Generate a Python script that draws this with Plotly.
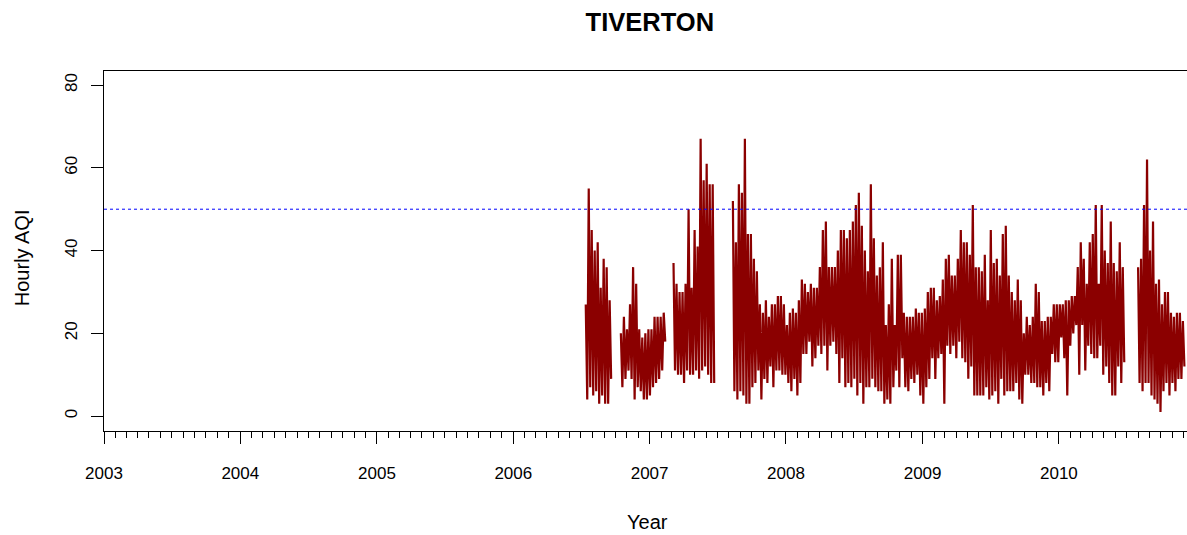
import pandas as pd
import plotly.graph_objs as go

# data chunks: start, end and per-block highs / lows
s1_start, s1_end = "2006-07-14", "2006-09-24"
s1_high = [27, 55, 45, 40, 42, 31, 38, 36, 28]
s1_low = [4, 7, 5, 6, 3, 5, 3, 3, 9]

s2_start, s2_end = "2006-10-16", "2007-02-16"
s2_high = [20, 24, 21, 27, 36, 32, 21, 19, 20, 21, 21, 24, 24, 24, 25]
s2_low = [7, 9, 11, 9, 4, 7, 6, 4, 4, 5, 7, 8, 9, 11, 18]

s3_start, s3_end = "2007-03-06", "2007-06-27"
s3_high = [37, 32, 30, 30, 32, 50, 31, 45, 41, 67, 57, 61, 56, 56]
s3_low = [11, 10, 10, 8, 11, 10, 10, 11, 9, 11, 12, 10, 8, 8]

s4_start, s4_end = "2007-08-12", "2010-06-29"
s4_high = [52, 42, 56, 54, 67, 44, 44, 38, 35, 27, 25, 28, 24, 27, 27, 29,
           29, 27, 22, 25, 26, 25, 28, 33, 32, 30, 32, 31, 31, 36, 45, 47, 36,
           36, 36, 40, 45, 45, 43, 45, 47, 51, 54, 46, 40, 35, 56, 43, 34,
           36, 42, 22, 27, 38, 22, 39, 39, 25, 24, 24, 24, 26, 25, 25, 26, 30,
           31, 31, 28, 29, 33, 38, 39, 34, 34, 38, 45, 42, 42, 39, 51, 36, 36,
           35, 39, 28, 45, 37, 38, 34, 44, 46, 34, 30, 28, 33, 28, 20, 24, 22,
           24, 32, 30, 23, 23, 24, 24, 27, 27, 27, 27, 28, 28, 29, 29, 36,
           42, 38, 32, 42, 44, 51, 32, 51, 40, 37, 47, 37, 35, 42, 36]
s4_low = [6, 4, 6, 5, 3, 3, 7, 8, 11, 4, 9, 8, 12, 7, 11, 11,
          10, 10, 8, 6, 9, 5, 8, 15, 15, 18, 12, 14, 17, 15, 17, 11, 17,
          18, 15, 8, 14, 7, 8, 7, 9, 5, 8, 3, 7, 7, 9, 7, 6,
          6, 3, 4, 3, 7, 11, 7, 14, 7, 6, 9, 8, 10, 5, 3, 7, 9,
          14, 9, 14, 15, 3, 17, 15, 17, 14, 18, 14, 13, 9, 12, 5, 5, 5,
          5, 7, 4, 5, 6, 3, 9, 5, 6, 6, 6, 8, 4, 3, 10, 10, 8,
          8, 7, 7, 5, 8, 6, 15, 13, 13, 19, 14, 5, 17, 20, 22, 10,
          22, 11, 17, 15, 14, 14, 17, 10, 12, 8, 5, 5, 12, 8, 13]

s5_start, s5_end = "2010-08-01", "2010-12-07"
s5_high = [36, 38, 51, 62, 40, 47, 32, 33, 27, 30, 30, 25, 24, 25, 25, 23]
s5_low = [8, 6, 8, 8, 5, 4, 3, 1, 6, 8, 5, 8, 6, 9, 9, 12]

year_ticks = ["2003", "2004", "2005", "2006", "2007", "2008", "2009", "2010"]
aqi_ticks = [0, 20, 40, 60, 80]
limit = 50

FONT = "Liberation Sans, Arial, sans-serif"


def chunk(start, end, highs, lows):
    t0 = pd.Timestamp(start)
    step = (pd.Timestamp(end) - t0) / len(highs)
    xs, ys = [], []
    for i in range(len(highs)):
        xs += [t0 + step * i, t0 + step * (i + 0.5)]
        ys += [highs[i], lows[i]]
    xs.append(None)
    ys.append(None)
    return xs, ys


xs, ys = [], []
for c in [(s1_start, s1_end, s1_high, s1_low),
          (s2_start, s2_end, s2_high, s2_low),
          (s3_start, s3_end, s3_high, s3_low),
          (s4_start, s4_end, s4_high, s4_low),
          (s5_start, s5_end, s5_high, s5_low)]:
    cx, cy = chunk(*c)
    xs += cx
    ys += cy

trace = go.Scatter(x=xs, y=ys, mode="lines", connectgaps=False,
                   line=dict(color="#8B0000", width=2.2), hoverinfo="skip")

layout = go.Layout(
    width=1187, height=535,
    margin=dict(l=104, r=0, t=71, b=104),
    paper_bgcolor="white", plot_bgcolor="white",
    showlegend=False,
    font=dict(family=FONT, color="black", size=17),
    title=dict(text="<b>TIVERTON</b>", font=dict(size=25.5, family=FONT, color="black"),
               x=0.504, xref="paper", xanchor="center",
               y=1 - 22 / 535, yref="container", yanchor="middle"),
    xaxis=dict(type="date", range=["2003-01-01", "2010-12-10"],
               tickvals=[y + "-01-01" for y in year_ticks], ticktext=year_ticks,
               ticks="outside", ticklen=12, tickwidth=1, tickcolor="black",
               minor=dict(ticks="outside", ticklen=6, tickwidth=1, tickcolor="black",
                          dtick="M1", tick0="2003-01-01"),
               showline=True, linecolor="black", linewidth=1, mirror=True,
               showgrid=False, zeroline=False, ticklabelstandoff=15),
    yaxis=dict(range=[-3.6, 83.4], tickvals=aqi_ticks, tickangle=-90,
               ticks="outside", ticklen=12, tickwidth=1, tickcolor="black",
               showline=True, linecolor="black", linewidth=1, mirror=False,
               showgrid=False, zeroline=False, ticklabelstandoff=7),
    shapes=[dict(type="line", xref="paper", x0=0, x1=1, yref="y", y0=limit, y1=limit,
                 line=dict(color="blue", width=1, dash="dot"))],
    annotations=[
        dict(text="Year", xref="paper", yref="paper", x=0.502, y=-0.253,
             showarrow=False, xanchor="center", yanchor="middle", font=dict(size=20)),
        dict(text="Hourly AQI", xref="paper", yref="paper", x=-0.0757, y=0.48,
             showarrow=False, textangle=-90, xanchor="center", yanchor="middle",
             font=dict(size=20)),
    ],
)

fig = go.Figure(data=[trace], layout=layout)
fig.write_html("out.html", config={"displayModeBar": False},
               post_script="document.body.style.margin='0';")
